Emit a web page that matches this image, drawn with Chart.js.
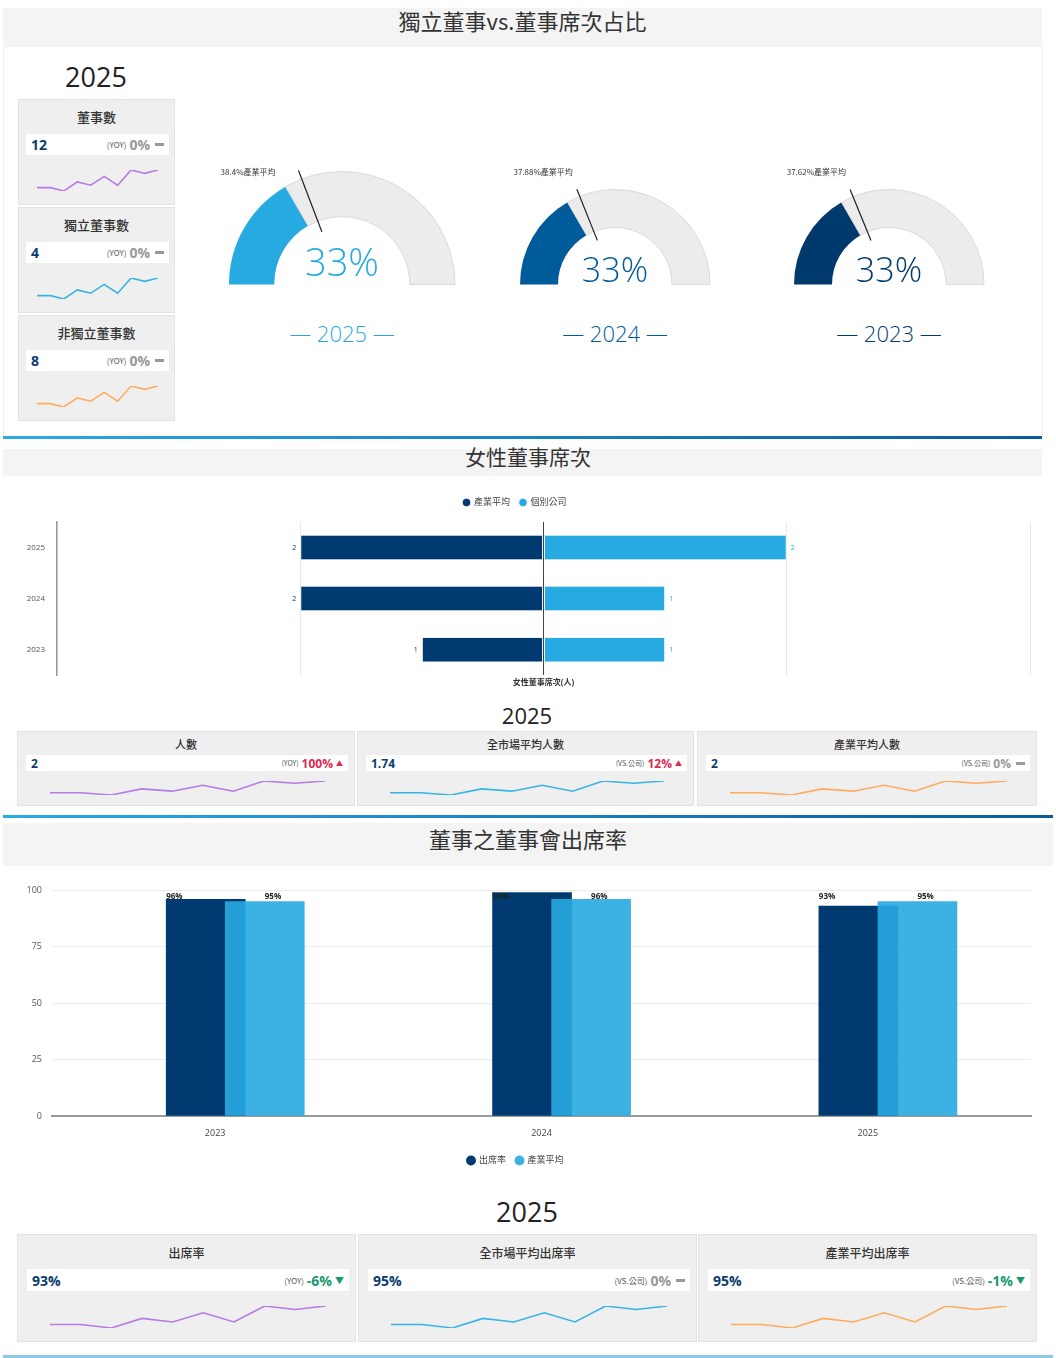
<!DOCTYPE html>
<html>
<head>
<meta charset="utf-8">
<script src="https://cdn.jsdelivr.net/npm/chart.js@4.4.1/dist/chart.umd.min.js"></script>
<style>
  body { margin: 0; width: 1056px; height: 1358px; position: relative; background: #fff; overflow: hidden;
         font-family: "Open Sans", "Noto Sans CJK TC", sans-serif; }
  .abs { position: absolute; }
  .band { position: absolute; background: #f4f4f4; }
  .title { position: absolute; text-align: center; color: #333;
           font-family: "Noto Sans CJK TC", sans-serif; }
  .line { position: absolute; background: linear-gradient(90deg, #29abe2, #0a5c9c); }
  .year { position: absolute; text-align: center; color: #222; }
  .card { position: absolute; background: #efefef; border: 1px solid #e2e2e2; box-sizing: border-box; }
  .card .ct { position: absolute; left: 0; right: 0; text-align: center; color: #333; line-height: 20px;
              font-family: "Noto Sans CJK TC", sans-serif; font-weight: 500; }
  .card .box { position: absolute; background: #fff; display: flex; align-items: center;
               justify-content: space-between; padding: 0 5px; box-sizing: border-box; }
  .card .val { color: #0d3c6e; font-weight: 700; }
  .card .chg { display: flex; align-items: center; gap: 3px; font-weight: 700; }
  .card .tag { color: #555; font-weight: 400; font-family: "Noto Sans CJK TC", sans-serif; }
  .flat { display: inline-block; width: 9px; height: 3px; background: #999; margin-left: 2px; }
  .glabel { position: absolute; text-align: center; font-weight: 300; }
  canvas { position: absolute; }
</style>
</head>
<body>
<div id="root"></div>
<script>
// ---- 獨立董事vs.董事席次占比 ----
const gaugeYears = ['2025', '2024', '2023'];
const indepRatio = [33.33, 33.33, 33.33];
const industryAvgRatio = [38.4, 37.88, 37.62];

const boardKpiTitles = ['董事數', '獨立董事數', '非獨立董事數'];
const boardKpiValues = ['12', '4', '8'];
const boardKpiChange = ['0%', '0%', '0%'];
const boardKpiTrend = ['flat', 'flat', 'flat'];

// same small trend line used in every KPI card
const sparkTrend = [1, 1, 0, 2.7, 1.7, 4.3, 1.7, 6.2, 5.2, 6.2];

// ---- 女性董事席次 ----
const femaleYears = ['2025', '2024', '2023'];
const femaleIndustry = [2, 2, 1];
const femaleCompany = [2, 1, 1];
const femaleKpiTitles = ['人數', '全市場平均人數', '產業平均人數'];
const femaleKpiValues = ['2', '1.74', '2'];
const femaleKpiTags = ['(YOY)', '(VS.公司)', '(VS.公司)'];
const femaleKpiChange = ['100%', '12%', '0%'];
const femaleKpiTrend = ['up', 'up', 'flat'];

// ---- 董事之董事會出席率 ----
const attendYears = [2023, 2024, 2025];
const attendRate = [96, 99, 93];
const attendIndustry = [95, 96, 95];
const attendKpiTitles = ['出席率', '全市場平均出席率', '產業平均出席率'];
const attendKpiValues = ['93%', '95%', '95%'];
const attendKpiTags = ['(YOY)', '(VS.公司)', '(VS.公司)'];
const attendKpiChange = ['-6%', '0%', '-1%'];
const attendKpiTrend = ['down', 'flat', 'down'];

const DARK = '#003a70';
const LIGHT = '#27aae1';
const sparkColors = ['#b57be6', '#36b5e5', '#ffab5c'];
const trendColors = { up: '#e0284f', down: '#1a9a6c', flat: '#999' };

Chart.defaults.font.family = '"Open Sans", "Noto Sans CJK TC", sans-serif';
Chart.defaults.animation = false;

const root = document.getElementById('root');

function el(tag, cls, css, text) {
  const e = document.createElement(tag);
  if (cls) e.className = cls;
  if (css) Object.assign(e.style, css);
  if (text !== undefined) e.textContent = text;
  return e;
}
const px = v => v + 'px';

// static frame: bands, titles, separator lines
function band(top, height, width, title, titleY, size, titleW) {
  root.appendChild(el('div', 'band', { left: '3px', top: px(top), width: px(width), height: px(height) }));
  root.appendChild(el('div', 'title', { left: px(titleW ? 3 : 0), width: px(titleW || 1056), top: px(titleY - size * 0.7), fontSize: px(size), lineHeight: px(size * 1.4) }, title));
}
band(8, 39, 1039, '獨立董事vs.董事席次占比', 20, 22, 1039);
root.appendChild(el('div', 'abs', { left: '3px', top: '47px', width: '1038px', height: '389px', borderLeft: '1px solid #eee', borderRight: '1px solid #eee' }));
root.appendChild(el('div', 'line', { left: '3px', top: '436px', width: '1039px', height: '3px' }));
band(449, 27, 1039, '女性董事席次', 457, 21);
root.appendChild(el('div', 'line', { left: '3px', top: '815px', width: '1050px', height: '3px' }));
band(823, 43, 1050, '董事之董事會出席率', 838, 22);
root.appendChild(el('div', 'line', { left: '3px', top: '1355px', width: '1050px', height: '3px', background: '#8ccbe8' }));

function yearText(cx, cy, size, text) {
  root.appendChild(el('div', 'year', { left: px(cx - 60), width: '120px', top: px(cy - size * 0.7), fontSize: px(size), lineHeight: px(size * 1.4) }, text));
}
yearText(96, 77, 27, '2025');
yearText(527, 715, 22, '2025');
yearText(527, 1212, 27, '2025');

function sparkline(parent, x0, y0, x1, y1, color) {
  const c = el('canvas', null, { left: px(x0 - 3), top: px(y0 - 3) });
  c.width = x1 - x0 + 6; c.height = y1 - y0 + 6;
  parent.appendChild(c);
  new Chart(c, {
    type: 'line',
    data: { labels: sparkTrend.map((_, i) => i), datasets: [{ data: sparkTrend, borderColor: color, borderWidth: 1.6, pointRadius: 0, tension: 0 }] },
    options: {
      responsive: false, layout: { padding: 3 },
      plugins: { legend: { display: false }, tooltip: { enabled: false } },
      scales: {
        x: { display: false, offset: false },
        y: { display: false, min: Math.min(...sparkTrend), max: Math.max(...sparkTrend) }
      }
    }
  });
}

function card(o) {
  const c = el('div', 'card', { left: px(o.left), top: px(o.top), width: px(o.width), height: px(o.height) });
  c.appendChild(el('div', 'ct', { top: px(o.titleY - 10), fontSize: px(o.titleSize) }, o.title));
  const box = el('div', 'box', { left: px(o.boxL), top: px(o.boxT), width: px(o.width - o.boxL - o.boxR), height: px(o.boxH) });
  box.appendChild(el('span', 'val', { fontSize: px(o.valSize) }, o.value));
  const chg = el('span', 'chg', { color: trendColors[o.trend], fontSize: px(o.valSize) });
  chg.appendChild(el('span', 'tag', { fontSize: px(o.tagSize) }, o.tag));
  chg.appendChild(el('span', null, null, o.change));
  if (o.trend === 'flat') chg.appendChild(el('span', 'flat'));
  else chg.appendChild(el('span', null, { fontSize: px(o.valSize - 5) }, o.trend === 'up' ? '▲' : '▼'));
  box.appendChild(chg);
  c.appendChild(box);
  root.appendChild(c);
  sparkline(c, o.sx0, o.sy0, o.width - o.sx1r, o.sy1, o.color);
}

boardKpiTitles.forEach((t, i) => card({
  left: 18, top: 99 + i * 108, width: 157, height: 106, title: t, titleY: 17, titleSize: 13,
  boxL: 7, boxT: 34, boxR: 7, boxH: 21, value: boardKpiValues[i], valSize: 14, tag: '(YOY)', tagSize: 8,
  change: boardKpiChange[i], trend: boardKpiTrend[i], sx0: 18, sy0: 70, sx1r: 18, sy1: 91, color: sparkColors[i]
}));
const row1Left = [17, 357, 697], row1Width = [338, 337, 340];
femaleKpiTitles.forEach((t, i) => card({
  left: row1Left[i], top: 731, width: row1Width[i], height: 75, title: t, titleY: 12, titleSize: 11,
  boxL: 8, boxT: 23, boxR: 8, boxH: 16, value: femaleKpiValues[i], valSize: 12, tag: femaleKpiTags[i], tagSize: 7,
  change: femaleKpiChange[i], trend: femaleKpiTrend[i], sx0: 32, sy0: 49, sx1r: 31, sy1: 63, color: sparkColors[i]
}));
const row2Left = [17, 358, 698];
attendKpiTitles.forEach((t, i) => card({
  left: row2Left[i], top: 1234, width: 339, height: 108, title: t, titleY: 18, titleSize: 12,
  boxL: 9, boxT: 34, boxR: 8, boxH: 22, value: attendKpiValues[i], valSize: 14, tag: attendKpiTags[i], tagSize: 8,
  change: attendKpiChange[i], trend: attendKpiTrend[i], sx0: 32, sy0: 71, sx1r: 31, sy1: 93, color: sparkColors[i]
}));

// ---- gauges ----
const gaugeColors = [LIGHT, '#005b9a', '#003a6c'];
const gaugeLayout = [
  { cx: 342, r: 113, font: 38, textDy: 19, gap: 23 },
  { cx: 615, r: 95, font: 34, textDy: 12, gap: 4 },
  { cx: 889, r: 95, font: 34, textDy: 12, gap: 4 }
];
const gaugeBase = 285, gaugeCanvasTop = 160;

const gaugeDeco = {
  id: 'gaugeDeco',
  afterDraw(chart, args, o) {
    const arc = chart.getDatasetMeta(0).data[0];
    const { x, y, outerRadius } = arc;
    const ctx = chart.ctx;
    const a = Math.PI * o.avg / 100;
    const p = rr => ({ x: x - Math.cos(a) * rr, y: y - Math.sin(a) * rr });
    const p0 = p(outerRadius * 0.5), p1 = p(outerRadius * 1.08);
    ctx.save();
    ctx.strokeStyle = '#222'; ctx.lineWidth = 1.2;
    ctx.beginPath(); ctx.moveTo(p0.x, p0.y); ctx.lineTo(p1.x, p1.y); ctx.stroke();
    ctx.fillStyle = '#333'; ctx.font = '8px "Noto Sans CJK TC", sans-serif';
    ctx.textAlign = 'right'; ctx.textBaseline = 'middle';
    ctx.fillText(o.avg + '%產業平均', p1.x - o.gap, 172 - gaugeCanvasTop);
    ctx.fillStyle = o.color; ctx.font = '300 ' + o.font + 'px "Open Sans", sans-serif';
    ctx.textAlign = 'center';
    ctx.fillText(Math.round(o.value) + '%', x, y - o.textDy);
    ctx.restore();
  }
};

gaugeYears.forEach((yr, i) => {
  const g = gaugeLayout[i];
  const padX = 40;
  const areaW = 2 * g.r + 2, areaH = g.r + 1;
  const padTop = gaugeBase - areaH - gaugeCanvasTop;
  const c = el('canvas', null, { left: px(g.cx - g.r - 1 - padX), top: px(gaugeCanvasTop) });
  c.width = areaW + 2 * padX; c.height = padTop + areaH + 6;
  root.appendChild(c);
  new Chart(c, {
    type: 'doughnut',
    data: { datasets: [{
      data: [indepRatio[i], 100 - indepRatio[i]],
      backgroundColor: [gaugeColors[i], '#ececec'],
      borderColor: [gaugeColors[i], '#dadada'],
      borderWidth: [0, 1]
    }] },
    options: {
      responsive: false, rotation: -90, circumference: 180, cutout: '60%',
      layout: { padding: { left: padX, right: padX, top: padTop, bottom: 6 } },
      plugins: { legend: { display: false }, tooltip: { enabled: false },
        gaugeDeco: { avg: industryAvgRatio[i], value: indepRatio[i], color: gaugeColors[i], font: g.font, textDy: g.textDy, gap: g.gap } }
    },
    plugins: [gaugeDeco]
  });
  root.appendChild(el('div', 'glabel', { left: px(g.cx - 80), width: '160px', top: px(333 - 16), lineHeight: '32px', fontSize: '22px', color: gaugeColors[i] }, '— ' + yr + ' —'));
});

// ---- value labels for both bar charts ----
const barValueLabels = {
  id: 'barValueLabels',
  afterDatasetsDraw(chart) {
    const ctx = chart.ctx;
    ctx.save();
    chart.data.datasets.forEach((ds, di) => {
      const o = ds.valueLabel;
      if (!o) return;
      chart.getDatasetMeta(di).data.forEach((bar, j) => {
        const v = ds.data[j];
        const num = typeof v === 'object' ? v.y : v;
        ctx.fillStyle = o.color; ctx.font = o.font;
        ctx.textBaseline = 'middle';
        if (o.mode === 'hbar') {
          ctx.textAlign = num < 0 ? 'right' : 'left';
          ctx.fillText(Math.abs(num), bar.x + (num < 0 ? -4 : 4), bar.y);
        } else {
          ctx.textAlign = 'left';
          const x = o.anchor === 'left' ? bar.x - bar.width / 2 : bar.x;
          ctx.fillText(num + '%', x, chart.chartArea.top + 6);
        }
      });
    });
    ctx.restore();
  }
};

// ---- 女性董事席次 butterfly bars ----
const fc = el('canvas', null, { left: '0px', top: '488px' });
fc.width = 1042; fc.height = 204;
root.appendChild(fc);
new Chart(fc, {
  type: 'bar',
  data: {
    labels: femaleYears,
    datasets: [
      { label: '產業平均', data: femaleIndustry.map(v => -v), backgroundColor: DARK, borderColor: '#e8eef5', borderWidth: 1, borderSkipped: false,
        valueLabel: { mode: 'hbar', color: DARK, font: '7px "Open Sans", sans-serif' } },
      { label: '個別公司', data: femaleCompany, backgroundColor: LIGHT, borderColor: '#e8f4fb', borderWidth: 1, borderSkipped: false,
        valueLabel: { mode: 'hbar', color: LIGHT, font: '7px "Open Sans", sans-serif' } }
    ]
  },
  options: {
    responsive: false, indexAxis: 'y',
    barPercentage: 0.5, categoryPercentage: 1,
    layout: { padding: { right: 12 } },
    plugins: {
      tooltip: { enabled: false },
      legend: { position: 'top', labels: { usePointStyle: true, pointStyle: 'circle', boxWidth: 6, boxHeight: 6, padding: 10, color: '#444', font: { size: 9 } } }
    },
    scales: {
      x: { stacked: true, min: -4, max: 4, ticks: { display: false, stepSize: 2 },
           grid: { color: c => (c.tick && c.tick.value === 0 ? '#444' : '#e8e8e8'), drawTicks: false },
           border: { display: false },
           title: { display: true, text: '女性董事席次(人)', color: '#333', font: { size: 8, weight: 'bold' }, padding: { top: 3, bottom: 0 } } },
      // empty strip between the legend and the plot
      gap: { type: 'linear', position: 'top', ticks: { display: false }, grid: { display: false, drawTicks: false },
             border: { display: false }, afterFit: s => { s.height = 5; } },
      y: { stacked: true, ticks: { color: '#555', font: { size: 8 }, padding: 12 }, grid: { display: false, drawTicks: false },
           border: { display: true, color: '#999', width: 1.5 },
           afterFit: s => { s.width = 57; } }
    }
  },
  plugins: [barValueLabels]
});

// ---- 出席率 bars (overlapping columns on a year axis) ----
const DARK_SHIFT = -0.029, LIGHT_SHIFT = 0.152;
const ac = el('canvas', null, { left: '0px', top: '875px' });
ac.width = 1042; ac.height = 300;
root.appendChild(ac);
new Chart(ac, {
  type: 'bar',
  data: {
    datasets: [
      { label: '出席率', data: attendYears.map((yr, i) => ({ x: yr + DARK_SHIFT, y: attendRate[i] })),
        backgroundColor: DARK, grouped: false, barThickness: 79, order: 2,
        valueLabel: { mode: 'col', anchor: 'left', color: '#222', font: 'bold 8px "Open Sans", sans-serif' } },
      { label: '產業平均', data: attendYears.map((yr, i) => ({ x: yr + LIGHT_SHIFT, y: attendIndustry[i] })),
        backgroundColor: 'rgba(39,170,225,0.9)', grouped: false, barThickness: 79, order: 1,
        valueLabel: { mode: 'col', anchor: 'center', color: '#222', font: 'bold 8px "Open Sans", sans-serif' } }
    ]
  },
  options: {
    responsive: false,
    layout: { padding: { top: 14, right: 11 } },
    plugins: {
      tooltip: { enabled: false },
      legend: { position: 'bottom', labels: { usePointStyle: true, pointStyle: 'circle', boxWidth: 7, boxHeight: 7, padding: 10, color: '#444', font: { size: 9 },
                sort: (a, b) => a.datasetIndex - b.datasetIndex } }
    },
    scales: {
      x: { type: 'linear', offset: false, min: attendYears[0] - 0.5, max: attendYears[attendYears.length - 1] + 0.5,
           afterBuildTicks: s => { s.ticks = attendYears.map(v => ({ value: v })); },
           ticks: { callback: v => String(v), color: '#444', font: { size: 9 }, padding: 12 },
           grid: { display: false, drawTicks: false }, border: { color: '#9a9a9a', width: 2 },
           afterFit: s => { s.height = 30; } },
      y: { min: 0, max: 100, ticks: { stepSize: 25, color: '#555', font: { size: 9 }, padding: 10 },
           grid: { color: '#ececec', drawTicks: false }, border: { display: false },
           afterFit: s => { s.width = 52; } }
    }
  },
  plugins: [barValueLabels]
});
</script>
</body>
</html>
